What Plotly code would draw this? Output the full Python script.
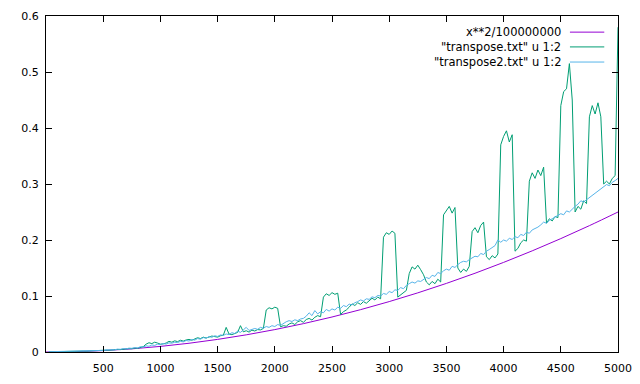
import plotly.graph_objects as go

# ---- data ----
x_fun = [0, 250, 500, 750, 1000, 1250, 1500, 1750, 2000, 2250, 2500, 2750, 3000,
         3250, 3500, 3750, 4000, 4250, 4500, 4750, 5000]
y_fun = [0, 0.000625, 0.0025, 0.005625, 0.01, 0.015625, 0.0225, 0.030625, 0.04,
         0.050625, 0.0625, 0.075625, 0.09, 0.105625, 0.1225, 0.140625, 0.16,
         0.180625, 0.2025, 0.225625, 0.25]

x_data = list(range(25, 5001, 25))

y_transpose = [
    0.0003, 0.0005, 0.0004, 0.0006, 0.0005, 0.0008, 0.0007, 0.0009, 0.0011, 0.0010,
    0.0013, 0.0012, 0.0016, 0.0015, 0.0019, 0.0018, 0.0023, 0.0022, 0.0028, 0.0026,
    0.0033, 0.0031, 0.0038, 0.0036, 0.0045, 0.0043, 0.0052, 0.0050, 0.0060, 0.0058,
    0.0070, 0.0066, 0.0080, 0.0095, 0.0140, 0.0165, 0.0150, 0.0175, 0.0160, 0.0140,
    0.0145, 0.0160, 0.0190, 0.0175, 0.0200, 0.0185, 0.0210, 0.0195, 0.0215, 0.0225,
    0.0210, 0.0235, 0.0255, 0.0240, 0.0265, 0.0250, 0.0270, 0.0285, 0.0275, 0.0265,
    0.0290, 0.0300, 0.0440, 0.0320, 0.0310, 0.0335, 0.0350, 0.0470, 0.0360, 0.0380,
    0.0355, 0.0390, 0.0375, 0.0400, 0.0395, 0.0420, 0.0750, 0.0790, 0.0770, 0.0800,
    0.0780, 0.0450, 0.0470, 0.0460, 0.0500, 0.0520, 0.0490, 0.0540, 0.0560, 0.0530,
    0.0580, 0.0600, 0.0570, 0.0620, 0.0650, 0.0630, 0.0980, 0.1040, 0.1010, 0.1060,
    0.1030, 0.1050, 0.0670, 0.0720, 0.0750, 0.0800, 0.0860, 0.0830, 0.0880, 0.0850,
    0.0900, 0.0870, 0.0920, 0.0960, 0.0930, 0.0980, 0.0950, 0.2050, 0.2130, 0.2100,
    0.2160, 0.2120, 0.0980, 0.1020, 0.1050, 0.1100, 0.1400, 0.1520, 0.1480, 0.1550,
    0.1470, 0.1380, 0.1250, 0.1200, 0.1260, 0.1220, 0.1300, 0.1250, 0.2450, 0.2520,
    0.2600, 0.2480, 0.2580, 0.1500, 0.1420, 0.1480, 0.1440, 0.1530, 0.2150, 0.2220,
    0.2130, 0.2260, 0.2320, 0.1700, 0.1650, 0.1720, 0.1680, 0.1750, 0.3700, 0.3850,
    0.3950, 0.3750, 0.3880, 0.1800, 0.1850, 0.1950, 0.2000, 0.1980, 0.3050, 0.3200,
    0.3100, 0.3250, 0.3150, 0.3300, 0.2300, 0.2380, 0.2340, 0.2420, 0.2400, 0.4400,
    0.4650, 0.4700, 0.5150, 0.4500, 0.2500, 0.2600, 0.2550, 0.2700, 0.2650, 0.4200,
    0.4400, 0.4250, 0.4450, 0.4200, 0.3000, 0.3050, 0.3000, 0.3100, 0.3150, 0.5800,
]

y_transpose2 = [
    0.0005, 0.0006, 0.0004, 0.0008, 0.0007, 0.0009, 0.0006, 0.0010, 0.0012, 0.0009,
    0.0015, 0.0013, 0.0018, 0.0016, 0.0021, 0.0019, 0.0026, 0.0024, 0.0031, 0.0029,
    0.0037, 0.0034, 0.0043, 0.0040, 0.0051, 0.0048, 0.0060, 0.0055, 0.0069, 0.0066,
    0.0078, 0.0072, 0.0095, 0.0088, 0.0110, 0.0102, 0.0125, 0.0118, 0.0140, 0.0132,
    0.0150, 0.0142, 0.0163, 0.0157, 0.0175, 0.0168, 0.0190, 0.0181, 0.0205, 0.0196,
    0.0223, 0.0212, 0.0240, 0.0228, 0.0258, 0.0245, 0.0275, 0.0262, 0.0290, 0.0278,
    0.0305, 0.0296, 0.0322, 0.0310, 0.0345, 0.0330, 0.0372, 0.0350, 0.0395, 0.0440,
    0.0385, 0.0400, 0.0420, 0.0405, 0.0440, 0.0425, 0.0455, 0.0440, 0.0470, 0.0455,
    0.0490, 0.0475, 0.0510, 0.0540, 0.0560, 0.0545, 0.0575, 0.0560, 0.0590, 0.0600,
    0.0640, 0.0700, 0.0650, 0.0740, 0.0680, 0.0720, 0.0700, 0.0760, 0.0730, 0.0770,
    0.0750, 0.0800, 0.0780, 0.0830, 0.0810, 0.0855, 0.0840, 0.0880, 0.0900, 0.0930,
    0.0910, 0.0950, 0.0940, 0.0985, 0.0970, 0.1010, 0.1000, 0.1045, 0.1030, 0.1080,
    0.1060, 0.1110, 0.1100, 0.1150, 0.1130, 0.1190, 0.1220, 0.1250, 0.1230, 0.1270,
    0.1260, 0.1300, 0.1330, 0.1310, 0.1370, 0.1350, 0.1420, 0.1400, 0.1450, 0.1480,
    0.1460, 0.1530, 0.1510, 0.1560, 0.1600, 0.1620, 0.1610, 0.1650, 0.1680, 0.1710,
    0.1700, 0.1760, 0.1740, 0.1800, 0.1830, 0.1860, 0.1900, 0.2000, 0.1960, 0.2000,
    0.1980, 0.2030, 0.2010, 0.2060, 0.2040, 0.2100, 0.2080, 0.2140, 0.2120, 0.2180,
    0.2200, 0.2230, 0.2270, 0.2320, 0.2300, 0.2350, 0.2380, 0.2410, 0.2440, 0.2470,
    0.2450, 0.2520, 0.2500, 0.2560, 0.2600, 0.2640, 0.2700, 0.2680, 0.2720, 0.2760,
    0.2800, 0.2840, 0.2880, 0.2920, 0.2950, 0.2990, 0.2970, 0.3030, 0.3060, 0.3100,
]

x_ticks = [500, 1000, 1500, 2000, 2500, 3000, 3500, 4000, 4500, 5000]
y_ticks = [0, 0.1, 0.2, 0.3, 0.4, 0.5, 0.6]

names = ['x**2/100000000', '"transpose.txt" u 1:2', '"transpose2.txt" u 1:2']
colors = ['#9400D3', '#009E73', '#56B4E9']

FONT = "DejaVu Sans"

fig = go.Figure()
fig.add_trace(go.Scatter(x=x_fun, y=y_fun, mode='lines', line=dict(color=colors[0], width=1, shape='spline'),
                         name=names[0], showlegend=False))
fig.add_trace(go.Scatter(x=x_data, y=y_transpose, mode='lines', line=dict(color=colors[1], width=1),
                         name=names[1], showlegend=False))
fig.add_trace(go.Scatter(x=x_data, y=y_transpose2, mode='lines', line=dict(color=colors[2], width=1),
                         name=names[2], showlegend=False))

# gnuplot-style key: text right-aligned, sample line to the right
key_y = [0.952, 0.908, 0.863]
for nm, col, ky in zip(names, colors, key_y):
    fig.add_annotation(x=0.904, y=ky, xref='paper', yref='paper', text=nm, showarrow=False,
                       xanchor='right', yanchor='middle', font=dict(family=FONT, size=11.5, color='black'))
    fig.add_shape(type='line', xref='paper', yref='paper', x0=0.916, x1=0.976, y0=ky, y1=ky,
                  line=dict(color=col, width=1))

axis_common = dict(showline=True, linecolor='black', linewidth=1, mirror='ticks', ticks='inside',
                   ticklen=6, tickcolor='black', showgrid=False, zeroline=False, automargin=False,
                   tickfont=dict(family=FONT, size=11, color='black'))
fig.update_xaxes(range=[0, 5000], tickvals=x_ticks, ticklabelstandoff=6, **axis_common)
fig.update_yaxes(range=[0, 0.6], tickvals=y_ticks, ticklabelstandoff=4, **axis_common)

# page body has an 8px default margin, so the figure is offset by 8px; compensate here
fig.update_layout(width=640, height=384, margin=dict(l=38, r=30, t=8, b=40),
                  plot_bgcolor='white', paper_bgcolor='white', showlegend=False)

fig.write_html("out.html")
